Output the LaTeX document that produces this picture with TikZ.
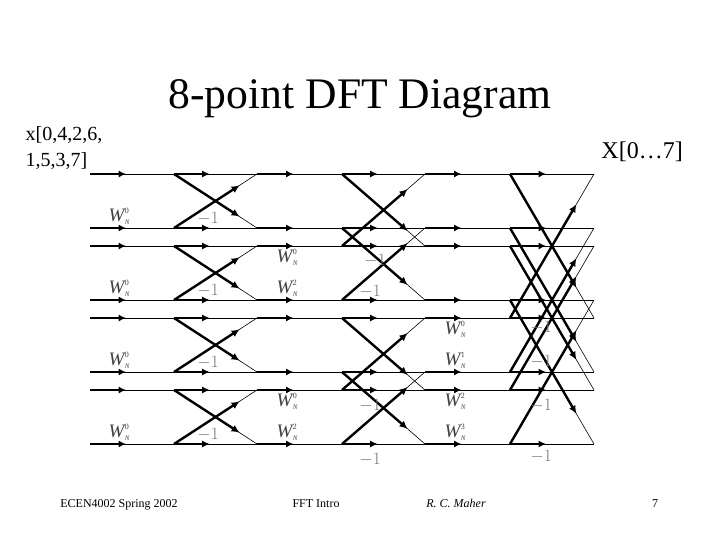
\documentclass[tikz,border=0pt]{standalone}
\usepackage{fontspec}
\setmainfont{Liberation Serif}
\usetikzlibrary{arrows.meta,calc}
\tikzset{
  x=1pt,y=-1pt,
  gridpt/.style={coordinate},
  wire/.style={line width=0.8pt,black},
  fat/.style={line width=2.4pt,black,-{Latex[length=8pt,width=7.5pt]}},
  flat/.style={line width=1.9pt,black,-{Latex[length=7.5pt,width=7pt]}},
  diagwire/.style={line width=0.6pt,black},
  tw/.style={inner sep=0pt,text=black!75,font=\fontsize{19}{19}\selectfont},
  mone/.style={inner sep=0pt,text=black!55,font=\fontsize{16}{16}\selectfont},
  foot/.style={inner sep=0pt,anchor=base,font=\fontsize{12}{12}\selectfont},
}
\newcommand{\hseg}[2]{%
  \draw[wire] (#1) -- (#2);
  \draw[flat] (#1) -- ($(#1)!.43!(#2)$);}
\newcommand{\dseg}[2]{%
  \draw[diagwire] (#1) -- (#2);
  \draw[fat] (#1) -- ($(#1)!.79!(#2)$);}
\newcommand{\twid}[1]{{\itshape W\kern0.5pt\rlap{\raisebox{8pt}{\fontsize{8}{8}\selectfont\upshape #1}}\raisebox{-3pt}{\fontsize{7}{7}\selectfont N}}}
\begin{document}
\begin{tikzpicture}
\useasboundingbox[fill=white] (0,0) rectangle (720,540);
% grid points
\foreach \c/\x in {0/90,1/174,2/257,3/342,4/425,5/510,6/594}
  \foreach \r/\y in {0/174,1/228,2/246,3/300,4/318,5/372,6/390,7/444}
    \node[gridpt] (g\c-\r) at (\x,\y) {};
% horizontal wires
\foreach \r in {0,...,7}{
  \foreach \c [evaluate=\c as \d using int(\c+1)] in {0,...,5}{
    \hseg{g\c-\r}{g\d-\r}
  }
}
% stage 1
\foreach \a/\b in {0/1,2/3,4/5,6/7}{
  \dseg{g1-\a}{g2-\b}
  \dseg{g1-\b}{g2-\a}
}
% stage 2
\foreach \a/\b in {0/2,1/3,4/6,5/7}{
  \dseg{g3-\a}{g4-\b}
  \dseg{g3-\b}{g4-\a}
}
% stage 3
\foreach \a/\b in {0/4,1/5,2/6,3/7}{
  \dseg{g5-\a}{g6-\b}
  \dseg{g5-\b}{g6-\a}
}
% twiddles
\foreach \n/\x/\y/\e in {a/119/216/0,b/119/288/0,c/119/360/0,d/119/432/0,
  e/287/257/0,f/287/288/2,g/287/401/0,h/287/432/2,
  i/455/329/0,j/455/360/1,k/455/401/2,l/455/432/3}
  \node[tw] (w\n) at (\x,\y) {\twid{\e}};
% minus ones
\foreach \n/\x/\y in {a/208/219,b/208/291,c/208/363,d/208/435,
  e/375/261,f/370/292,g/370/406,h/370/460,
  i/541/328,j/541/362,k/541/406,l/541/457}
  \node[mone] (m\n) at (\x,\y) {$-1$};
% titles
\node[inner sep=0pt,anchor=base,font=\fontsize{43.6}{43.6}\selectfont] (title) at (360,109) {8-point DFT Diagram};
\node[inner sep=0pt,anchor=base west,font=\fontsize{20}{20}\selectfont] (in1) at (25.5,141) {x[0,4,2,6,};
\node[inner sep=0pt,anchor=base west,font=\fontsize{20}{20}\selectfont] (in2) at (25.5,167) {1,5,3,7]};
\node[inner sep=0pt,anchor=base east,font=\fontsize{24}{24}\selectfont] (out) at (683,159) {X[0…7]};
% footer
\node[foot] (f1) at (119,507) {ECEN4002 Spring 2002};
\node[foot] (f2) at (316,507) {FFT Intro};
\node[foot] (f3) at (456,507) {\itshape R. C. Maher};
\node[foot] (f4) at (655,507) {7};
\end{tikzpicture}
\end{document}
